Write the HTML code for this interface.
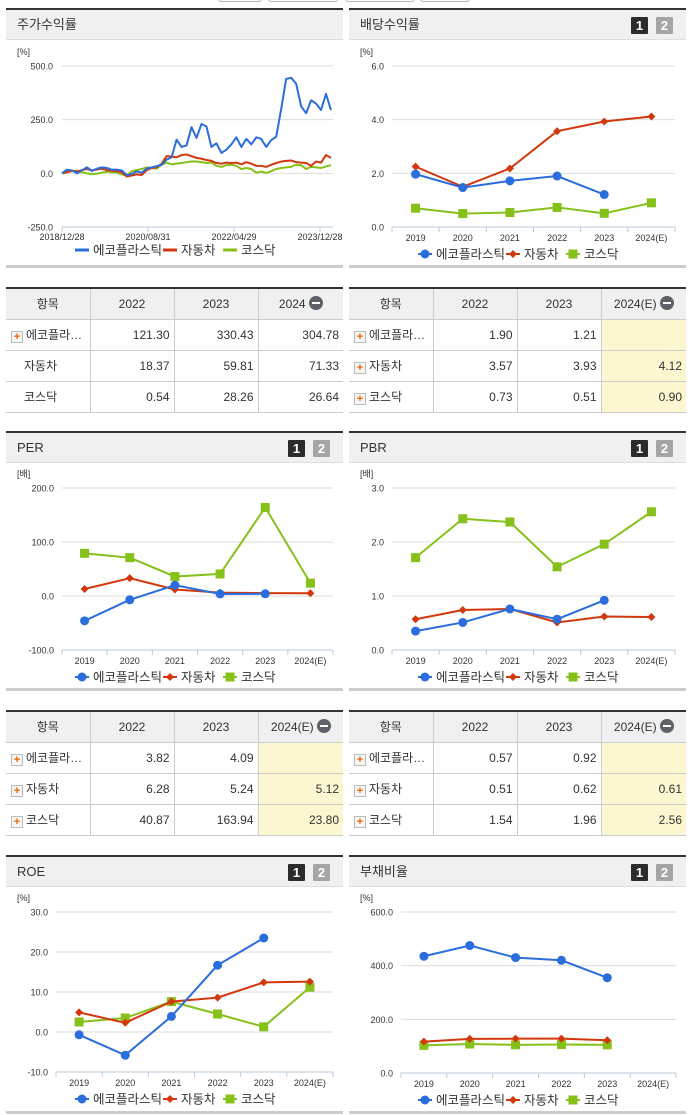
<!DOCTYPE html>
<html><head><meta charset="utf-8">
<style>
*{margin:0;padding:0;box-sizing:border-box}
body{width:691px;height:1115px;background:#fff;position:relative;overflow:hidden;font-family:"Liberation Sans","Noto Sans CJK KR",sans-serif;color:#333}
.hdr{position:absolute;height:32px;background:#f0f0f0;border-top:2px solid #333;border-bottom:1px solid #ddd;font-size:13px;line-height:30px;padding-left:11px;color:#333}
.btn{position:absolute;top:7px;width:17px;height:17px;color:#fff;font-weight:bold;font-size:13px;line-height:17px;text-align:center;border-radius:1px}
.b1{right:38px;background:#2b2b2b}.b2{right:13px;background:#a5a5a5}
.bot{position:absolute;height:3px;background:#ccc}
table{position:absolute;border-collapse:collapse;border-top:2px solid #333;font-size:12px;table-layout:fixed}
td,th{border:1px solid #ccc;height:31px;font-weight:normal}
table tr td:first-child,table tr th:first-child{border-left:none}
table tr td:last-child,table tr th:last-child{border-right:none}
th{background:#f0f0f0;text-align:center}
td{text-align:right;padding-right:4px}
td.nm{text-align:left;padding-left:5px}
td.nm2{text-align:left;padding-left:18px}
td.hl{background:#fdf7d1}
.plus{display:inline-block;width:12px;height:12px;border:1px solid #bbb;background:#f6f6f6;color:#f06000;font-size:11px;line-height:10px;text-align:center;font-weight:bold;vertical-align:-1px;margin-right:3px}
.minus{display:inline-block;width:14px;height:14px;border-radius:7px;background:#5d6168;vertical-align:-2px;margin-left:3px;position:relative}
.minus:after{content:"";position:absolute;left:3px;top:6px;width:8px;height:2px;background:#fff}
.tb{position:absolute;top:-6px;height:8px;border:1px solid #bbb;border-radius:3px;background:#fafafa}
</style></head><body>
<div class="tb" style="left:218px;width:44px"></div>
<div class="tb" style="left:268px;width:70px"></div>
<div class="tb" style="left:345px;width:70px"></div>
<div class="tb" style="left:420px;width:50px"></div>

<div class="hdr" style="left:6px;width:337px;top:8px">주가수익률</div>
<div class="hdr" style="left:349px;width:337px;top:8px">배당수익률<span class="btn b1">1</span><span class="btn b2">2</span></div>
<div class="bot" style="left:6px;width:337px;top:265px"></div>
<div class="bot" style="left:349px;width:337px;top:265px"></div>

<div class="hdr" style="left:6px;width:337px;top:431px">PER<span class="btn b1">1</span><span class="btn b2">2</span></div>
<div class="hdr" style="left:349px;width:337px;top:431px">PBR<span class="btn b1">1</span><span class="btn b2">2</span></div>
<div class="bot" style="left:6px;width:337px;top:688px"></div>
<div class="bot" style="left:349px;width:337px;top:688px"></div>

<div class="hdr" style="left:6px;width:337px;top:855px">ROE<span class="btn b1">1</span><span class="btn b2">2</span></div>
<div class="hdr" style="left:349px;width:337px;top:855px">부채비율<span class="btn b1">1</span><span class="btn b2">2</span></div>
<div class="bot" style="left:6px;width:337px;top:1111px"></div>
<div class="bot" style="left:349px;width:337px;top:1111px"></div>

<table style="left:6px;top:287px;width:337px">
<colgroup><col style="width:84px"><col style="width:84px"><col style="width:84px"><col style="width:85px"></colgroup>
<tr><th>항목</th><th>2022</th><th>2023</th><th>2024<span class="minus"></span></th></tr>
<tr><td class="nm"><span class="plus">+</span>에코플라…</td><td>121.30</td><td>330.43</td><td>304.78</td></tr>
<tr><td class="nm2">자동차</td><td>18.37</td><td>59.81</td><td>71.33</td></tr>
<tr><td class="nm2">코스닥</td><td>0.54</td><td>28.26</td><td>26.64</td></tr>
</table>
<table style="left:349px;top:287px;width:337px">
<colgroup><col style="width:84px"><col style="width:84px"><col style="width:84px"><col style="width:85px"></colgroup>
<tr><th>항목</th><th>2022</th><th>2023</th><th>2024(E)<span class="minus"></span></th></tr>
<tr><td class="nm"><span class="plus">+</span>에코플라…</td><td>1.90</td><td>1.21</td><td class="hl"></td></tr>
<tr><td class="nm"><span class="plus">+</span>자동차</td><td>3.57</td><td>3.93</td><td class="hl">4.12</td></tr>
<tr><td class="nm"><span class="plus">+</span>코스닥</td><td>0.73</td><td>0.51</td><td class="hl">0.90</td></tr>
</table>
<table style="left:6px;top:710px;width:337px">
<colgroup><col style="width:84px"><col style="width:84px"><col style="width:84px"><col style="width:85px"></colgroup>
<tr><th>항목</th><th>2022</th><th>2023</th><th>2024(E)<span class="minus"></span></th></tr>
<tr><td class="nm"><span class="plus">+</span>에코플라…</td><td>3.82</td><td>4.09</td><td class="hl"></td></tr>
<tr><td class="nm"><span class="plus">+</span>자동차</td><td>6.28</td><td>5.24</td><td class="hl">5.12</td></tr>
<tr><td class="nm"><span class="plus">+</span>코스닥</td><td>40.87</td><td>163.94</td><td class="hl">23.80</td></tr>
</table>
<table style="left:349px;top:710px;width:337px">
<colgroup><col style="width:84px"><col style="width:84px"><col style="width:84px"><col style="width:85px"></colgroup>
<tr><th>항목</th><th>2022</th><th>2023</th><th>2024(E)<span class="minus"></span></th></tr>
<tr><td class="nm"><span class="plus">+</span>에코플라…</td><td>0.57</td><td>0.92</td><td class="hl"></td></tr>
<tr><td class="nm"><span class="plus">+</span>자동차</td><td>0.51</td><td>0.62</td><td class="hl">0.61</td></tr>
<tr><td class="nm"><span class="plus">+</span>코스닥</td><td>1.54</td><td>1.96</td><td class="hl">2.56</td></tr>
</table>

<svg id="charts" width="691" height="1115" style="position:absolute;left:0;top:0;pointer-events:none"></svg>

<script>
const years = ["2019","2020","2021","2022","2023","2024(E)"];
const divEco = [1.97,1.47,1.72,1.90,1.21,null];
const divAuto = [2.25,1.50,2.18,3.57,3.93,4.12];
const divKosdaq = [0.70,0.50,0.54,0.73,0.51,0.90];
const perEco = [-46,-7,20,3.82,4.09,null];
const perAuto = [13,33,12,6.28,5.24,5.12];
const perKosdaq = [79,71,36,40.87,163.94,23.80];
const pbrEco = [0.35,0.51,0.76,0.57,0.92,null];
const pbrAuto = [0.57,0.74,0.76,0.51,0.62,0.61];
const pbrKosdaq = [1.71,2.43,2.37,1.54,1.96,2.56];
const roeEco = [-0.7,-5.8,3.9,16.7,23.5,null];
const roeAuto = [4.9,2.3,7.6,8.6,12.4,12.6];
const roeKosdaq = [2.5,3.5,7.6,4.5,1.3,11.2];
const debtEco = [435,475,430,420,355,null];
const debtAuto = [117,127,128,128,122,null];
const debtKosdaq = [103,108,105,106,105,null];
const divTicks = [0,2,4,6];
const perTicks = [-100,0,100,200];
const pbrTicks = [0,1,2,3];
const roeTicks = [-10,0,10,20,30];
const debtTicks = [0,200,400,600];
const stockTicks = [-250,0,250,500];
const stockDateLabels = ["2018/12/28","2020/08/31","2022/04/29","2023/12/28"];
const stockEco = [0,17,14,0,14,28,11,22,28,25,17,17,14,-8,-3,9,3,22,28,33,40,64,75,157,123,130,215,165,230,218,123,140,95,110,135,168,123,160,135,168,160,123,155,170,300,440,445,418,313,280,340,325,295,370,294];
const stockAuto = [0,5,12,8,15,20,14,18,22,15,12,10,5,-15,-10,-5,-8,15,25,28,45,80,78,75,85,88,80,72,68,62,58,48,45,50,48,50,42,52,45,35,35,30,40,48,55,58,60,52,50,48,35,55,50,85,72];
const stockKosdaq = [0,8,10,12,5,0,-3,-2,3,8,5,3,-5,-10,10,15,20,28,25,22,40,50,42,45,48,52,55,55,52,48,50,35,30,38,40,35,20,25,20,3,8,2,10,20,25,28,30,40,38,20,30,28,25,32,38];

const NS="http://www.w3.org/2000/svg";
const svg=document.getElementById('charts');
const BLUE="#2a6ddc",RED="#d2380c",GREEN="#86c11a";
function el(tag,attrs,parent){const e=document.createElementNS(NS,tag);for(const k in attrs)e.setAttribute(k,attrs[k]);(parent||svg).appendChild(e);return e;}
function txt(x,y,s,size,anchor,parent){const t=el('text',{x:x,y:y,'font-size':size,'text-anchor':anchor||'start',fill:'#333','font-family':'"Liberation Sans","Noto Sans CJK KR",sans-serif'},parent);t.textContent=s;return t;}
function marker(g,kind,x,y){
  let m;
  if(kind==='c'){m=el('circle',{cx:x,cy:y,r:4.5,fill:BLUE},g);}
  else if(kind==='d'){m=el('path',{d:`M${x} ${y-4}L${x+4} ${y}L${x} ${y+4}L${x-4} ${y}Z`,fill:RED},g);}
  else {m=el('rect',{x:x-4.5,y:y-4.5,width:9,height:9,fill:GREEN},g);}
  return m;
}
function legend(x0,y,line){
  const g=el('g',{});
  
  
  const items=[[BLUE,'c','에코플라스틱',88],[RED,'d','자동차',60],[GREEN,'s','코스닥',60]];
  let x=x0;
  items.forEach(it=>{
    el('line',{x1:x,y1:y,x2:x+14,y2:y,stroke:it[0],'stroke-width':line?3:2},g);
    if(!line) marker(g,it[1],x+7,y);
    txt(x+18,y+4.5,it[2],12.5,'start',g);
    x+=it[3];
  });
}
function catChart(o){
  const g=el('g',{});
  
  
  const min=o.ticks[0],max=o.ticks[o.ticks.length-1];
  const yS=v=>o.y1+(max-v)/(max-min)*(o.y0-o.y1);
  const bw=(o.right-o.left)/years.length;
  const xS=i=>o.left+bw*(i+0.5);
  txt(o.unitX,o.y1-11,o.unit,9,'start',g);
  o.ticks.forEach(t=>{
    const y=yS(t);
    if(t!==min) el('line',{x1:o.left,y1:y,x2:o.right,y2:y,stroke:'#ddd','stroke-width':1},g);
    txt(o.left-8,y+3.5,t.toFixed(1),9,'end',g);
  });
  el('line',{x1:o.left,y1:o.y0,x2:o.right,y2:o.y0,stroke:'#b9c9dd','stroke-width':1},g);
  for(let i=0;i<=years.length;i++){const x=o.left+bw*i;el('line',{x1:x,y1:o.y0,x2:x,y2:o.y0+5,stroke:'#b9c9dd'},g);}
  years.forEach((yr,i)=>txt(xS(i),o.y0+14,yr,9,'middle',g));
  [[o.s[2],GREEN,'s','kosdaq'],[o.s[1],RED,'d','auto'],[o.s[0],BLUE,'c','eco']].forEach(([data,col,k,nm])=>{
    const pts=[];data.forEach((v,i)=>{if(v!==null)pts.push([xS(i),yS(v)]);});
    const p=el('polyline',{points:pts.map(p=>p.join(',')).join(' '),fill:'none',stroke:col,'stroke-width':2},g);
    
    
    pts.forEach(pt=>{const m=marker(g,k,pt[0],pt[1]);
      
      });
  });
  legend(o.legX,o.y0+27,false);
}
catChart({name:'dividend-chart',left:392,right:675,y1:66,y0:227,ticks:divTicks,unit:'[%]',unitX:360,s:[divEco,divAuto,divKosdaq],legX:418});
catChart({name:'per-chart',left:62,right:333,y1:488,y0:650,ticks:perTicks,unit:'[배]',unitX:17,s:[perEco,perAuto,perKosdaq],legX:75});
catChart({name:'pbr-chart',left:392,right:675,y1:488,y0:650,ticks:pbrTicks,unit:'[배]',unitX:360,s:[pbrEco,pbrAuto,pbrKosdaq],legX:418});
catChart({name:'roe-chart',left:56,right:333,y1:912,y0:1072,ticks:roeTicks,unit:'[%]',unitX:17,s:[roeEco,roeAuto,roeKosdaq],legX:75});
catChart({name:'debt-ratio-chart',left:401,right:676,y1:912,y0:1073,ticks:debtTicks,unit:'[%]',unitX:360,s:[debtEco,debtAuto,debtKosdaq],legX:418});

(function(){
  const g=el('g',{});
  
  
  const left=62,right=331,y1=66,y0=227,min=-250,max=500;
  const yS=v=>y1+(max-v)/(max-min)*(y0-y1);
  const n=stockEco.length;
  const xS=i=>left+(right-left)*i/(n-1);
  txt(17,55,'[%]',9,'start',g);
  stockTicks.forEach(t=>{const y=yS(t);
    if(t!==min) el('line',{x1:left,y1:y,x2:333,y2:y,stroke:'#ddd'},g);
    txt(53,y+3.5,t.toFixed(1),9,'end',g);});
  el('line',{x1:left,y1:y0,x2:333,y2:y0,stroke:'#b9c9dd'},g);
  stockDateLabels.forEach((d,i)=>{const x=left+i*86;
    el('line',{x1:x,y1:y0,x2:x,y2:y0+5,stroke:'#b9c9dd'},g);
    txt(x,y0+13,d,9,'middle',g);});
  [[stockKosdaq,GREEN,'kosdaq'],[stockAuto,RED,'auto'],[stockEco,BLUE,'eco']].forEach(([d,c,nm])=>{
    const p=el('polyline',{points:d.map((v,i)=>xS(i)+','+yS(v)).join(' '),fill:'none',stroke:c,'stroke-width':2,'stroke-linejoin':'round'},g);
    
    
  });
  legend(75,250,true);
})();
</script>
</body></html>
